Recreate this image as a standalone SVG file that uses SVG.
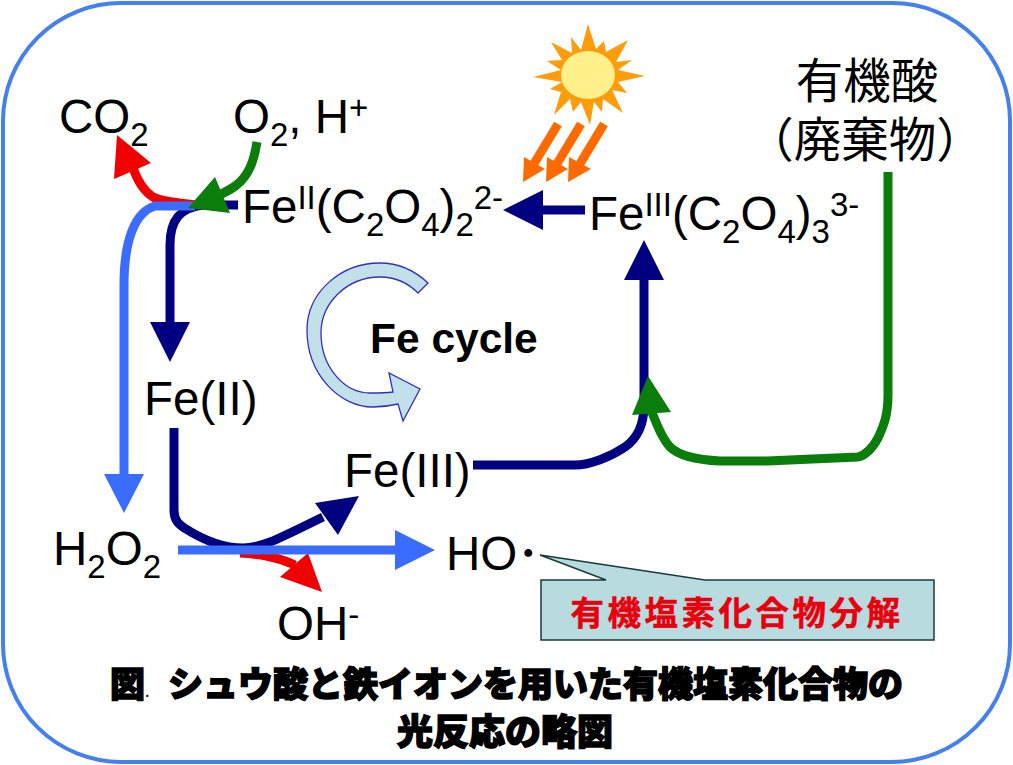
<svg xmlns="http://www.w3.org/2000/svg" width="1013" height="765" viewBox="0 0 1013 765">
<style>
.t{font-family:"Liberation Sans",Arial,sans-serif;font-size:47.5px;fill:#000}
.s{font-size:33px}
.j{font-family:"Noto Sans CJK JP",sans-serif;fill:#000}
.c{font-family:"Noto Sans CJK JP",sans-serif;font-size:35px;font-weight:900;fill:#000;stroke:#000;stroke-width:1.5px}
.l{fill:none;stroke-width:9;stroke-linejoin:round}
.navy{stroke:#000080}.nf{fill:#000080}
.blue{stroke:#3a6cff}.bf{fill:#3a6cff}
.red{stroke:#f00000}.rf{fill:#f00000}
.green{stroke:#0a7d0a}.gf{fill:#0a7d0a}
.of{fill:#ff6a00}
</style>
<rect x="3" y="3" width="1007" height="759" rx="118" ry="118" fill="#fff" stroke="#4480ee" stroke-width="4"/>

<g id="connectors">
<path class="l red" d="M196,205 C175,203 160,201 153,197 C145,192 138,182 133,168"/>
<polygon class="rf" points="117,135 151,163 114,179"/>
<path class="l navy" d="M238,205 L205,205 C180,207 170,220 170,245 L170,325"/>
<polygon class="nf" points="170,362 150,322 190,322"/>
<path class="l blue" d="M195,206 L155,206 C135,212 124,240 124,285 L124,476"/>
<polygon class="bf" points="124,513 104,474 144,474"/>
<path class="l green" d="M257,142 C254,160 250,172 240,182 C234,188 228,191 215,197"/>
<polygon class="gf" points="188,208 215,177 230,213"/>
<path class="l navy" d="M585,210 L540,210"/>
<polygon class="nf" points="503,210 543,190 543,230"/>
<path class="l navy" d="M174,428 L174,510 C174,520 178,524 186,529 C205,541 225,548 243,548 C262,548 280,538 323,517"/>
<polygon class="nf" points="359,496 315,503 338,535"/>
<path class="l red" d="M240,553 C258,554 275,556 295,565"/>
<polygon class="rf" points="322,592 308,553 280,577"/>
<path class="l blue" d="M178,550 L398,550"/>
<polygon class="bf" points="435,550 395,530 395,570"/>
<path class="l navy" d="M473,465 L575,465 C590,465 610,457 625,447 C638,438 644,425 644,405 L644,275"/>
<polygon class="nf" points="644,240 624,280 664,280"/>
<path class="l green" d="M888,172 L888,395 C888,415 884,425 878,438 C872,449 866,455 858,457 L767,461 L720,461 C700,460 680,457 670,447 C662,438 657,425 651,410"/>
<polygon class="gf" points="648,376 632,415 671,412"/>
<g id="light-rays">
<path class="l" stroke="#ff6a00" d="M558,124 L532,167"/>
<polygon class="of" points="523,182 524,157 545,169"/>
<path class="l" stroke="#ff6a00" d="M581,124 L555,167"/>
<polygon class="of" points="546,182 547,157 568,169"/>
<path class="l" stroke="#ff6a00" d="M604,124 L578,167"/>
<polygon class="of" points="568,182 569,157 591,169"/>
</g>
</g>

<g id="sun">
<polygon fill="#ff9c0a" points="588,24 596,49 604,41 606,52 628,40 616,62 632,60 618,70 645,76 618,82 627,93 612,90 623,113 603,99 602,112 594,102 590,125 581,102 573,112 570,99 554,115 561,92 550,89 562,82 533,77 561,70 547,61 562,60 551,42 572,53 571,37 581,50"/>
<ellipse cx="588" cy="75" rx="27" ry="24" fill="#fff08c"/>
</g>

<g id="fe-cycle">
<path fill="#c2e0ea" stroke="#3030c0" stroke-width="1.3" d="M428,283 C412,268 396,263 380,263 C340,263 307,293 307,330 C307,375 340,407 373,407 C383,407 390,406 398,404 L403,421 L420,389 L389,373 L393,392 C386,393 378,393 370,393 C345,393 321,368 321,333 C321,303 347,277 380,277 C395,277 408,283 418,293 Z"/>
<text x="370" y="353" class="t" style="font-size:42.5px;font-weight:700">Fe cycle</text>
</g>

<g id="co2"><text class="t" x="59" y="133">CO<tspan class="s" dy="13">2</tspan></text></g>
<g id="o2-h"><text class="t" x="233" y="133">O<tspan class="s" dy="13">2</tspan><tspan dy="-13">, H</tspan><tspan class="s" dy="-14">+</tspan></text></g>
<g id="fe2-oxalate"><text class="t" x="242" y="223">Fe<tspan class="s" dy="-14">II</tspan><tspan dy="14">(C</tspan><tspan class="s" dy="13">2</tspan><tspan dy="-13">O</tspan><tspan class="s" dy="13">4</tspan><tspan dy="-13">)</tspan><tspan class="s" dy="13">2</tspan><tspan class="s" dy="-27">2-</tspan></text></g>
<g id="fe3-oxalate"><text class="t" x="589" y="230">Fe<tspan class="s" dy="-14">III</tspan><tspan dy="14">(C</tspan><tspan class="s" dy="13">2</tspan><tspan dy="-13">O</tspan><tspan class="s" dy="13">4</tspan><tspan dy="-13">)</tspan><tspan class="s" dy="13">3</tspan><tspan class="s" dy="-27">3-</tspan></text></g>
<g id="organic-acid">
<text class="j" x="867" y="98" text-anchor="middle" font-size="47.5">有機酸</text>
<text class="j" x="865" y="157" text-anchor="middle" font-size="47.5">（廃棄物）</text>
</g>
<g id="fe2"><text class="t" x="144" y="415">Fe(II)</text></g>
<g id="fe3"><text class="t" x="344" y="487">Fe(III)</text></g>
<g id="h2o2"><text class="t" x="53" y="565">H<tspan class="s" dy="13">2</tspan><tspan dy="-13">O</tspan><tspan class="s" dy="13">2</tspan></text></g>
<g id="oh"><text class="t" x="277" y="640">OH<tspan class="s" dy="-14">-</tspan></text></g>
<g id="ho"><text class="t" x="446" y="570">HO<tspan style="font-family:'Noto Sans CJK JP',sans-serif;font-weight:900;font-size:28px" dx="-3" dy="-6">・</tspan></text></g>

<g id="callout">
<path fill="#b8dbe0" stroke="#1a3a3a" stroke-width="1.5" d="M540,555 L705,580 L934,580 L934,640 L541,640 L541,580 L606,580 Z"/>
<text x="737" y="625" text-anchor="middle" font-size="33.5" font-weight="700" letter-spacing="3.5" style="fill:#e8000c;font-family:'Noto Sans CJK JP',sans-serif;stroke:#e8000c;stroke-width:.5px">有機塩素化合物分解</text>
</g>

<g id="caption">
<text class="c" x="110" y="697">図<tspan style="font-size:16px;font-weight:400;stroke-width:0">.</tspan><tspan x="168">シュウ酸と鉄イオンを用いた有機塩素化合物の</tspan></text>
<text class="c" x="397" y="745" style="font-size:36px">光反応の略図</text>
</g>
</svg>
